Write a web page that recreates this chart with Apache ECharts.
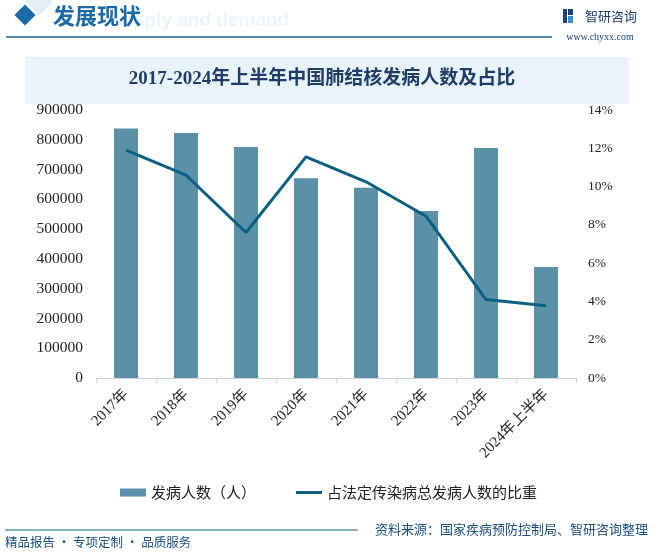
<!DOCTYPE html>
<html>
<head>
<meta charset="utf-8">
<script src="https://cdn.jsdelivr.net/npm/echarts@6/dist/echarts.min.js"></script>
<style>
html,body{margin:0;padding:0;background:#fff;}
#main{width:659px;height:552px;}
</style>
</head>
<body>
<div id="main"></div>
<script>
var categories = ['2017年','2018年','2019年','2020年','2021年','2022年','2023年','2024年上半年'];
var cases = [838000, 823000, 776000, 671000, 639000, 561000, 772000, 373000];
var ratio = [11.9, 10.6, 7.6, 11.55, 10.25, 8.45, 4.1, 3.78];
var leftTicks = [0,100000,200000,300000,400000,500000,600000,700000,800000,900000];
var rightTicks = ['0%','2%','4%','6%','8%','10%','12%','14%'];

var chart = echarts.init(document.getElementById('main'));
var serif = '"Liberation Serif","DejaVu Serif","Noto Sans CJK SC",serif';
var cjk = '"Noto Sans CJK SC","Noto Sans",sans-serif';
var option = {
  backgroundColor: '#fff',
  animation: false,
  graphic: [
    {type:'rect', shape:{x:0,y:0,width:20,height:20}, rotation: Math.PI/4, x:25, y:1, style:{fill:'#e3eef7'}, z:0, originX:0, originY:0},
    {type:'rect', shape:{x:-7.5,y:-7.5,width:15,height:15}, rotation: Math.PI/4, x:25, y:15, style:{fill:'#1d6aa8'}},
    {type:'text', x:200, y:21, style:{text:'supply and demand', font:'bold 19px "Liberation Sans",sans-serif', fill:'#edf4fa', textAlign:'center', textVerticalAlign:'middle'}, z:0},
    {type:'text', x:53, y:16, style:{text:'发展现状', font:'bold 22px ' + cjk, fill:'#1b6aa5', textVerticalAlign:'middle'}},
    {type:'line', shape:{x1:6,y1:37,x2:552,y2:37}, style:{stroke:'#1b5e8c', lineWidth:1.5}},
    {type:'rect', shape:{x:563,y:9,width:4,height:14}, style:{fill:'#1f3f7a'}},
    {type:'rect', shape:{x:568,y:9,width:5,height:6}, style:{fill:'#1f3f7a'}},
    {type:'rect', shape:{x:568,y:16,width:5,height:7}, style:{fill:'#3a8fd0'}},
    {type:'text', x:585, y:16, style:{text:'智研咨询', font:'13px ' + cjk, fill:'#1f3f7a', textVerticalAlign:'middle'}},
    {type:'text', x:600, y:37, style:{text:'www.chyxx.com', font:'10px ' + serif, fill:'#1f3f7a', textAlign:'center', textVerticalAlign:'middle'}},
    {type:'rect', shape:{x:25,y:57,width:604,height:47}, style:{fill:'#e8f3fb'}},
    {type:'text', x:322, y:79, style:{text:'2017-2024年上半年中国肺结核发病人数及占比', font:'bold 19px ' + serif, fill:'#1f3d66', textAlign:'center', textVerticalAlign:'middle'}},
    {type:'line', shape:{x1:5,y1:530,x2:358,y2:530}, style:{stroke:'#1b5e8c', lineWidth:1}},
    {type:'text', x:648, y:529, style:{text:'资料来源：国家疾病预防控制局、智研咨询整理', font:'13px ' + cjk, fill:'#1b4f80', textAlign:'right', textVerticalAlign:'middle'}},
    {type:'text', x:5, y:542, style:{text:'精品报告 · 专项定制 · 品质服务', font:'12.5px ' + cjk, fill:'#1b4f80', textVerticalAlign:'middle'}}
  ],
  legend: {
    top: 480,
    left: 115,
    itemGap: 40,
    itemWidth: 26,
    itemHeight: 8,
    textStyle: {fontFamily: cjk, fontSize: 15, color: '#222'},
    data: [
      {name:'发病人数（人）', icon:'rect'},
      {name:'占法定传染病总发病人数的比重', icon:'path://M0,0H26V3H0Z'}
    ]
  },
  grid: {left:96, right:83, top:110, bottom:174},
  xAxis: {
    type:'category',
    data: categories,
    axisLine:{lineStyle:{color:'#d0d0d0'}},
    axisTick:{show:true, length:5, lineStyle:{color:'#d0d0d0'}},
    axisLabel:{rotate:45, fontFamily: serif, fontSize:15, color:'#222', interval:0, margin:14}
  },
  yAxis: [
    {type:'value', min:0, max:900000, interval:100000,
     axisLine:{show:false}, axisTick:{show:false}, splitLine:{show:false},
     axisLabel:{fontFamily: serif, fontSize:15.5, color:'#222', margin:13,
       formatter:function(v){return leftTicks.indexOf(v)>=0 ? String(v) : '';}}},
    {type:'value', min:0, max:14, interval:2,
     axisLine:{show:false}, axisTick:{show:false}, splitLine:{show:false},
     axisLabel:{fontFamily: serif, fontSize:13.5, color:'#222', margin:12,
       formatter:function(v){return rightTicks[Math.round(v/2)];}}}
  ],
  series: [
    {name:'发病人数（人）', type:'bar', data:cases, barWidth:24, itemStyle:{color:'#5b91a8'}},
    {name:'占法定传染病总发病人数的比重', type:'line', yAxisIndex:1, data:ratio, symbol:'none',
     lineStyle:{color:'#0b5f80', width:3}, itemStyle:{color:'#0b5f80'}}
  ]
};
chart.setOption(option);
</script>
</body>
</html>
